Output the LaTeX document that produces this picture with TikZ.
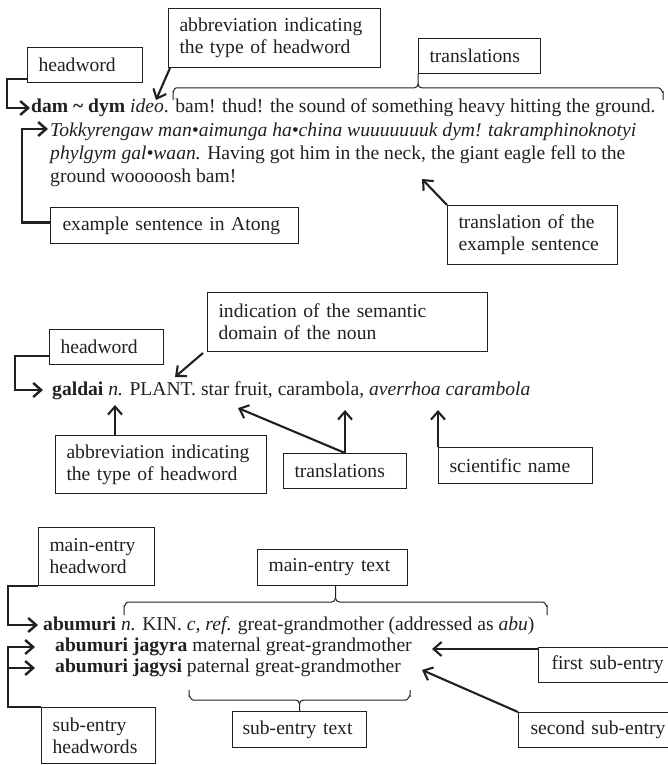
\documentclass[tikz,border=0pt]{standalone}
\usepackage{fontspec}
\setmainfont{Liberation Serif}
\usetikzlibrary{arrows.meta,calc}
\definecolor{ink}{RGB}{35,31,32}
\begin{document}
\begin{tikzpicture}[x=1pt,y=-1pt,
  font=\fontsize{19.6}{22}\selectfont, color=ink, text=ink,
  box/.style={draw=ink, line width=1pt, rectangle, anchor=north west, align=left, inner xsep=11pt, inner ysep=0pt},
  txt/.style={anchor=base west, inner sep=0pt},
  conn/.style={line width=2.4pt, -{Straight Barb[length=8pt,width=14pt]}},
  arr/.style={line width=2.1pt, -{Straight Barb[length=8pt,width=14pt]}},
  brc/.style={line width=1pt}]
\useasboundingbox (0,0) rectangle (667,765);

% ---------------- Section 1 ----------------
\node[box, minimum width=115pt, minimum height=35pt, text width=93pt] (hw1) at (27,47) {headword};
\node[box, minimum width=212pt, minimum height=59pt, text width=190pt] (ab1) at (168,8) {abbreviation indicating\\the type of headword};
\node[box, minimum width=122pt, minimum height=35pt, text width=100pt] (tr1) at (418,38) {translations};
\node[box, minimum width=248pt, minimum height=36pt, text width=224pt, inner xsep=12pt] (ex1) at (50,207) {example sentence in Atong};
\node[box, minimum width=170pt, minimum height=59pt, text width=148pt] (te1) at (447,205) {translation of the\\example sentence};

\node[txt] (l1) at (31,113) {\textbf{dam \textasciitilde{} dym} \textit{ideo}. bam! thud! the sound of something heavy hitting the ground.};
\node[txt] (l2) at (50,136) {\textit{Tokkyrengaw man•aimunga ha•china wuuuuuuuk dym! takramphinoknotyi}};
\node[txt] (l3) at (50,159) {\textit{phylgym gal•waan.} Having got him in the neck, the giant eagle fell to the};
\node[txt] (l4) at (50,182) {ground wooooosh bam!};

\coordinate (t1) at (30,108);
\coordinate (t2) at (156,100);
\coordinate (t3) at (422,179);
\coordinate (t4) at (48,129);
\draw[conn] ([yshift=4pt]hw1.south west) -- ++(-20,0) |- (t1);
\draw[arr] ([xshift=2pt]ab1.south west) -- (t2);
\draw[arr] (te1.north west) -- (t3);
\draw[conn] ([yshift=3pt]ex1.west) -- ++(-28,0) |- (t4);

% brace over translations
\draw[brc] (173,100) -- (173,92) to[out=270,in=180] (176,88) -- (414,88) to[out=0,in=270] (418,84) -- (tr1.south west);
\draw[brc] (418,84) to[out=270,in=180] (422,88) -- (659,88) to[out=0,in=270] (663,92) -- (663,100);

% ---------------- Section 2 ----------------
\node[box, minimum width=280pt, minimum height=59pt, text width=258pt] (ind) at (207,292) {indication of the semantic\\domain of the noun};
\node[box, minimum width=114pt, minimum height=35pt, text width=92pt] (hw2) at (49,329) {headword};
\node[box, minimum width=211pt, minimum height=58pt, text width=189pt] (ab2) at (55,435) {abbreviation indicating\\the type of headword};
\node[box, minimum width=123pt, minimum height=35pt, text width=101pt] (tr2) at (283,453) {translations};
\node[box, minimum width=154pt, minimum height=36pt, text width=132pt] (sci) at (438,447) {scientific name};

\node[txt] (g1) at (52,395) {\textbf{galdai} \textit{n.} PLANT. star fruit, carambola, \textit{averrhoa carambola}};

\coordinate (t5) at (43,390);
\coordinate (t6) at (175,377);
\coordinate (t7) at (115,405);
\coordinate (t8) at (345,410);
\coordinate (t9) at (238,408);
\coordinate (t10) at (438,410);
\draw[conn] ([yshift=9pt]hw2.south west) -- ++(-34,0) |- (t5);
\draw[arr] ([xshift=-4pt,yshift=-1pt]ind.south west) -- (t6);
\draw[arr] ([xshift=60pt]ab2.north west) -- (t7);
\draw[arr] ([xshift=62pt]tr2.north west) -- (t8);
\draw[arr] ([xshift=62pt]tr2.north west) -- (t9);
\draw[arr] (sci.north west) -- (t10);

% ---------------- Section 3 ----------------
\node[box, minimum width=116pt, minimum height=58pt, text width=94pt] (meh) at (38,527) {main-entry\\headword};
\node[box, minimum width=150pt, minimum height=36pt, text width=128pt] (met) at (257,549) {main-entry text};
\node[box, minimum width=114pt, minimum height=56pt, text width=92pt] (seh) at (41,707) {sub-entry\\headwords};
\node[box, minimum width=134pt, minimum height=36pt, text width=114pt, inner xsep=10pt] (set) at (232,711) {sub-entry text};
\node[box, minimum width=150pt, minimum height=35pt, text width=124pt, inner xsep=13pt] (fse) at (538,647) {first sub-entry};
\node[box, minimum width=170pt, minimum height=35pt, text width=146pt, inner xsep=12pt] (sse) at (518,712) {second sub-entry};

\node[txt] (a1) at (43,630) {\textbf{abumuri} \textit{n.} KIN. \textit{c, ref}. great-grandmother (addressed as \textit{abu})};
\node[txt] (a2) at (55,651) {\textbf{abumuri jagyra} maternal great-grandmother};
\node[txt] (a3) at (55,672) {\textbf{abumuri jagysi} paternal great-grandmother};

\coordinate (t11) at (38,625);
\coordinate (t12) at (35,647);
\coordinate (t13) at (35,668);
\coordinate (t14) at (432,649);
\coordinate (t15) at (422,670);
\draw[conn] (meh.south west) -- ++(-30,0) |- (t11);
\draw[conn] (seh.north west) -- ++(-33,0) |- (t12);
\draw[conn] ($(seh.north west)+(-33,0)$) |- (t13);
\draw[arr] ([yshift=-2pt]fse.north west) -- (t14);
\draw[arr] (sse.north west) -- (t15);

% brace over main-entry text
\draw[brc] (124,615) -- (124,606) to[out=270,in=180] (128,602) -- (331.5,602) to[out=0,in=270] (335.5,598) -- (335.5,585);
\draw[brc] (335.5,598) to[out=270,in=180] (339.5,602) -- (543,602) to[out=0,in=270] (547,606) -- (547,615);

% brace under sub-entry text
\draw[brc] (189,690) -- (189,696) to[out=90,in=180] (193,700) -- (295.5,700) to[out=0,in=90] (299.5,704) -- (set.north -| 299.5,0);
\draw[brc] (299.5,704) to[out=90,in=180] (303.5,700) -- (406,700) to[out=0,in=90] (410,696) -- (410,690);
\end{tikzpicture}
\end{document}
